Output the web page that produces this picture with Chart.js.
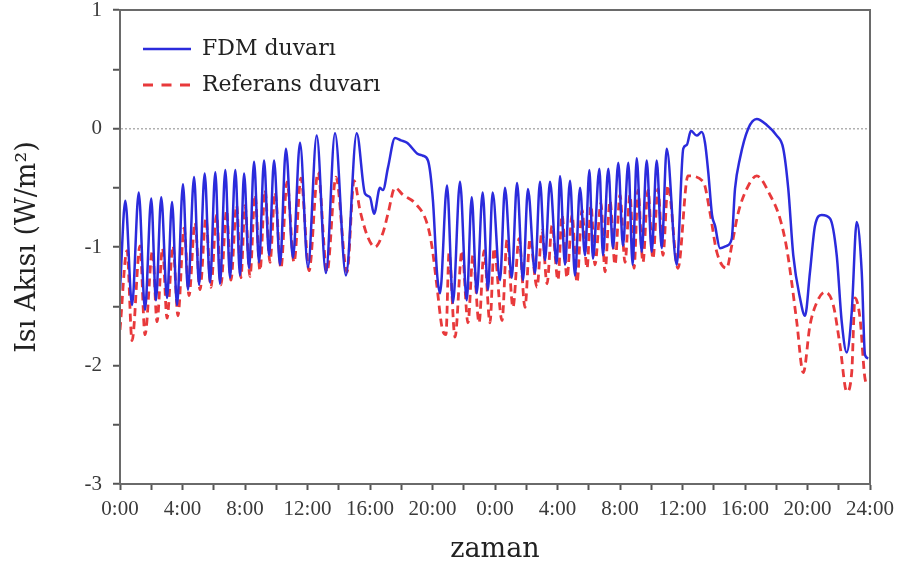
<!DOCTYPE html>
<html>
<head>
<meta charset="utf-8">
<script src="https://cdn.jsdelivr.net/npm/chart.js@4"></script>
<style>
html,body{margin:0;padding:0;background:#fff;}
#wrap{width:907px;height:574px;}
</style>
</head>
<body>
<div id="wrap"><canvas id="c" width="907" height="574"></canvas></div>
<script>
// Time (hours over two days) and heat flux (W/m²)
const fdmHours = [0,0.34,0.77,1.20,1.60,2.00,2.30,2.64,3.01,3.33,3.65,4.03,4.35,4.74,5.06,5.42,5.76,6.10,6.40,6.74,7.04,7.38,7.68,7.94,8.26,8.58,8.90,9.22,9.54,9.86,10.24,10.62,11.07,11.52,12.03,12.59,13.18,13.76,14.46,15.15,15.68,16.00,16.26,16.64,16.83,17.15,17.60,17.98,18.37,19.01,19.39,19.71,20.03,20.29,20.48,20.93,21.31,21.76,22.19,22.51,22.83,23.21,23.55,23.85,24.32,24.64,25.07,25.41,25.79,26.11,26.56,26.88,27.20,27.52,27.95,28.16,28.48,28.80,29.12,29.44,29.76,30.04,30.27,30.68,30.91,31.25,31.55,31.89,32.19,32.53,32.81,33.07,33.39,33.71,34.03,34.35,34.67,34.99,35.63,36.05,36.27,36.54,36.91,37.23,37.44,37.65,37.89,38.08,38.40,38.83,39.15,39.36,39.68,40.21,40.75,41.39,42.03,42.45,42.77,43.09,43.52,43.84,44.16,44.48,44.91,45.44,45.87,46.19,46.51,46.83,47.15,47.47,47.68,47.89];
const fdmValues = [-1.36,-0.61,-1.49,-0.54,-1.53,-0.59,-1.45,-0.58,-1.43,-0.62,-1.49,-0.47,-1.36,-0.41,-1.32,-0.38,-1.30,-0.37,-1.31,-0.35,-1.26,-0.35,-1.24,-0.38,-1.18,-0.28,-1.13,-0.27,-1.07,-0.27,-1.15,-0.17,-1.09,-0.12,-1.17,-0.06,-1.22,-0.04,-1.24,-0.04,-0.55,-0.58,-0.72,-0.50,-0.52,-0.33,-0.08,-0.10,-0.12,-0.21,-0.23,-0.27,-0.61,-1.22,-1.39,-0.48,-1.47,-0.45,-1.45,-0.58,-1.39,-0.54,-1.36,-0.54,-1.28,-0.50,-1.26,-0.46,-1.28,-0.51,-1.22,-0.45,-1.11,-0.45,-1.14,-0.40,-1.15,-0.44,-1.24,-0.50,-1.07,-0.35,-1.10,-0.34,-1.07,-0.34,-1.01,-0.29,-0.99,-0.29,-1.15,-0.25,-1.04,-0.27,-1.04,-0.27,-1.01,-0.17,-1.15,-0.17,-0.14,-0.02,-0.06,-0.03,-0.12,-0.37,-0.73,-0.82,-1.01,-0.99,-0.93,-0.51,-0.25,0.00,0.08,0.03,-0.06,-0.17,-0.51,-1.07,-1.43,-1.58,-1.21,-0.82,-0.73,-0.76,-1.07,-1.63,-1.89,-1.55,-0.79,-1.21,-1.91,-1.94];
const refHours = [0,0.45,0.77,1.28,1.60,2.08,2.37,2.72,3.01,3.39,3.71,4.10,4.42,4.80,5.12,5.50,5.82,6.18,6.46,6.82,7.10,7.46,7.74,8.00,8.32,8.64,8.96,9.28,9.60,9.92,10.30,10.69,11.14,11.58,12.10,12.67,13.25,13.82,14.53,14.98,15.36,15.87,16.32,16.83,17.15,17.60,18.11,18.88,19.65,19.97,20.29,20.61,20.86,21.06,21.44,21.89,22.27,22.59,22.98,23.30,23.68,23.94,24.45,24.77,25.15,25.54,25.92,26.24,26.69,27.01,27.33,27.65,28.03,28.29,28.61,28.93,29.25,29.57,29.89,30.14,30.40,30.78,31.04,31.36,31.68,32.00,32.32,32.64,32.90,33.15,33.47,33.79,34.11,34.43,34.75,35.07,35.71,36.35,37.33,37.76,38.19,38.83,39.15,39.57,40.11,40.75,41.60,42.24,42.67,42.99,43.31,43.73,44.16,44.59,45.12,45.65,46.08,46.51,46.83,47.04,47.36,47.68,47.89];
const refValues = [-1.70,-1.03,-1.79,-0.99,-1.74,-1.03,-1.63,-1.01,-1.60,-0.99,-1.58,-0.84,-1.41,-0.79,-1.36,-0.76,-1.34,-0.73,-1.32,-0.69,-1.28,-0.65,-1.26,-0.65,-1.25,-0.56,-1.20,-0.52,-1.13,-0.54,-1.18,-0.45,-1.13,-0.42,-1.20,-0.37,-1.21,-0.41,-1.21,-0.44,-0.69,-0.92,-1.00,-0.88,-0.72,-0.50,-0.56,-0.63,-0.80,-1.00,-1.34,-1.68,-1.74,-1.05,-1.76,-1.03,-1.64,-1.07,-1.64,-1.03,-1.64,-1.01,-1.62,-0.94,-1.51,-0.93,-1.51,-0.93,-1.34,-0.86,-1.31,-0.82,-1.28,-0.73,-1.26,-0.73,-1.30,-0.69,-1.18,-0.65,-1.15,-0.63,-1.21,-0.61,-1.15,-0.56,-1.13,-0.56,-1.18,-0.52,-1.13,-0.52,-1.10,-0.51,-1.07,-0.48,-1.18,-0.40,-0.45,-0.71,-1.04,-1.18,-0.99,-0.71,-0.51,-0.40,-0.56,-0.76,-1.01,-1.30,-1.63,-2.06,-1.66,-1.47,-1.38,-1.49,-1.83,-2.22,-2.06,-1.43,-1.60,-2.11,-2.17];
const xTickHours = [0,4,8,12,16,20,24,28,32,36,40,44,48];
const xTickLabels = ['0:00','4:00','8:00','12:00','16:00','20:00','0:00','4:00','8:00','12:00','16:00','20:00','24:00'];
const seriesNames = ['FDM duvarı','Referans duvarı'];

const toPoints = (xs, ys) => xs.map((x, i) => ({x: x, y: ys[i]}));

const frame = {
  id: 'frame',
  afterLayout(chart) {
    const lg = chart.legend, a = chart.chartArea;
    if (lg) { lg.left = a.left + 9; lg.top = a.top + 14; lg.bottom = a.bottom; lg.right = a.right; }
  },
  afterDraw(chart) {
    const {ctx, chartArea: a} = chart;
    ctx.save();
    ctx.strokeStyle = '#6a6a6a';
    ctx.lineWidth = 2;
    ctx.strokeRect(a.left, a.top, a.right - a.left, a.bottom - a.top);
    ctx.restore();
  }
};

const serif = 'Liberation Serif';
const wideSerif = 'DejaVu Serif';

new Chart(document.getElementById('c'), {
  type: 'line',
  data: {
    datasets: [
      {label: seriesNames[0], data: toPoints(fdmHours, fdmValues), borderColor: '#2b2bdc', backgroundColor: '#2b2bdc', borderWidth: 2.5, pointRadius: 0, cubicInterpolationMode: 'monotone', fill: false},
      {label: seriesNames[1], data: toPoints(refHours, refValues), borderColor: '#e8393b', backgroundColor: '#e8393b', borderWidth: 2.8, borderDash: [8,5], pointRadius: 0, cubicInterpolationMode: 'monotone', fill: false}
    ]
  },
  options: {
    responsive: false,
    animation: false,
    layout: {padding: {left: 0, right: 37, top: 10, bottom: 0}},
    plugins: {
      tooltip: {enabled: false},
      legend: {
        position: 'chartArea',
        align: 'start',
        labels: {
          usePointStyle: true,
          pointStyle: 'line',
          pointStyleWidth: 48,
          padding: 14,
          color: '#222',
          font: {family: wideSerif, size: 22},
          generateLabels: chart => chart.data.datasets.map((ds, i) => ({
            text: ds.label,
            fillStyle: ds.borderColor,
            strokeStyle: ds.borderColor,
            lineWidth: ds.borderWidth,
            lineDash: ds.borderDash ? [10, 8.5] : [],
            pointStyle: 'line',
            hidden: false,
            datasetIndex: i,
            fontColor: '#222'
          }))
        }
      }
    },
    scales: {
      x: {
        type: 'linear',
        min: 0, max: 48,
        afterFit: s => { s.height = 90; s.paddingLeft = 0; s.paddingRight = 0; },
        afterBuildTicks: s => { s.ticks = []; for (let h = 0; h <= 48; h += 2) s.ticks.push({value: h}); },
        ticks: {
          autoSkip: false, maxRotation: 0, padding: 7,
          color: '#3a3a3a',
          font: {family: serif, size: 21},
          callback: v => { const i = xTickHours.indexOf(v); return i >= 0 ? xTickLabels[i] : ''; }
        },
        grid: {drawOnChartArea: false, tickLength: 6, tickColor: '#555', tickWidth: 2},
        border: {display: true, color: '#6a6a6a', width: 2},
        title: {display: true, text: 'zaman', color: '#222', font: {family: wideSerif, size: 27}, padding: {top: 0, bottom: 8}}
      },
      y: {
        min: -3, max: 1,
        afterFit: s => { s.width = 120; s.paddingTop = 0; s.paddingBottom = 0; },
        ticks: {
          stepSize: 0.5, padding: 11,
          color: '#3a3a3a',
          font: {family: serif, size: 21},
          callback: v => Number.isInteger(v) ? String(v) : ''
        },
        grid: {
          drawOnChartArea: true,
          color: c => (c.tick && c.tick.value === 0) ? '#b0b0b0' : 'rgba(0,0,0,0)',
          lineWidth: 1.5,
          tickLength: 7, tickColor: '#555', tickWidth: 2
        },
        border: {display: true, color: '#6a6a6a', width: 2, dash: [2,2]},
        title: {display: true, text: 'Isı Akısı (W/m²)', color: '#222', font: {family: wideSerif, size: 27}, padding: {top: 12, bottom: 0}}
      }
    }
  },
  plugins: [frame]
});
</script>
</body>
</html>
